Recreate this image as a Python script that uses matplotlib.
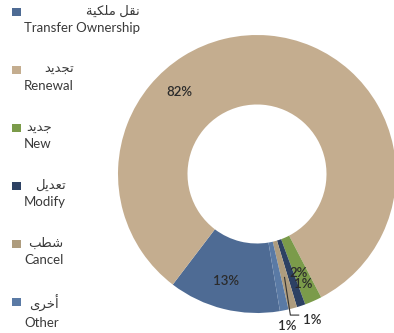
import numpy as np
import matplotlib
matplotlib.use('Agg')
import matplotlib.pyplot as plt
from matplotlib.patches import Rectangle

# licence types, in legend order (clockwise round the ring)
labels_ar = ['نقل ملكية', 'تجديد', 'جديد', 'تعديل', 'شطب', 'أخرى']
labels_en = ['Transfer Ownership', 'Renewal', 'New', 'Modify', 'Cancel', 'Other']
shares = [13, 82, 2, 1, 1, 1]
colors = ['#4E6B94', '#C4AD8F', '#7B9B4A', '#2D4163', '#AE9C7E', '#5A7AA5']

# where each percentage sits (data units of the pie axes)
label_pos = [(-0.22, -0.77), (-0.56, 0.59), (0.30, -0.71), (0.33, -0.79),
             (0.40, -1.05), (0.22, -1.09)]

# arabic letter forms: isolated, final, initial, medial
JOIN_FORMS = {
    'ب': '\ufe8f\ufe90\ufe91\ufe92',
    'ت': '\ufe95\ufe96\ufe97\ufe98',
    'ج': '\ufe9d\ufe9e\ufe9f\ufea0',
    'خ': '\ufea5\ufea6\ufea7\ufea8',
    'ش': '\ufeb5\ufeb6\ufeb7\ufeb8',
    'ط': '\ufec1\ufec2\ufec3\ufec4',
    'ع': '\ufec9\ufeca\ufecb\ufecc',
    'ق': '\ufed5\ufed6\ufed7\ufed8',
    'ك': '\ufed9\ufeda\ufedb\ufedc',
    'ل': '\ufedd\ufede\ufedf\ufee0',
    'م': '\ufee1\ufee2\ufee3\ufee4',
    'ن': '\ufee5\ufee6\ufee7\ufee8',
    'ي': '\ufef1\ufef2\ufef3\ufef4',
}
RIGHT_ONLY = {
    'د': '\ufea9\ufeaa',
    'ر': '\ufead\ufeae',
    'ة': '\ufe93\ufe94',
    'ى': '\ufeef\ufef0',
    'أ': '\ufe83\ufe84',
}


def shape(text):
    out = []
    for i, c in enumerate(text):
        prev = text[i - 1] if i > 0 else ''
        nxt = text[i + 1] if i + 1 < len(text) else ''
        to_prev = prev in JOIN_FORMS
        to_next = c in JOIN_FORMS and (nxt in JOIN_FORMS or nxt in RIGHT_ONLY)
        if c in JOIN_FORMS:
            f = JOIN_FORMS[c]
            if to_prev and to_next:
                out.append(f[3])
            elif to_prev:
                out.append(f[1])
            elif to_next:
                out.append(f[2])
            else:
                out.append(f[0])
        elif c in RIGHT_ONLY:
            f = RIGHT_ONLY[c]
            out.append(f[1] if to_prev else f[0])
        else:
            out.append(c)
    return ''.join(reversed(out))


plt.rcParams['font.family'] = ['Lato', 'DejaVu Sans']

fig = plt.figure(figsize=(3.94, 3.33), dpi=100)
W, H = 394, 333
cx, cy, r = 257, 174, 139
ax = fig.add_axes([(cx - r) / W, (H - cy - r) / H, 2 * r / W, 2 * r / H])

wedges, _ = ax.pie(shares, colors=colors, startangle=279.5, counterclock=False,
                   radius=1, wedgeprops=dict(width=0.5, linewidth=0))
for w in wedges:
    w.set_clip_on(False)
ax.set_xlim(-1, 1)
ax.set_ylim(-1, 1)
ax.set_aspect('equal')
ax.axis('off')

for v, (x, y) in zip(shares, label_pos):
    ax.text(x, y, f'{v}%', ha='center', va='center', fontsize=9.5,
            color='#2B2B2B', weight='semibold', clip_on=False)

# leader for the cancel slice
w = wedges[4]
mid = np.deg2rad((w.theta1 + w.theta2) / 2)
sx, sy = 0.77 * np.cos(mid), 0.77 * np.sin(mid)
lx, ly = label_pos[4]
ax.plot([sx, lx - 0.16, lx - 0.10], [sy, ly + 0.035, ly + 0.035],
        color='#333333', lw=0.8, clip_on=False)

# legend: square, arabic line above english, both right-aligned
for i, (ar, en, c) in enumerate(zip(labels_ar, labels_en, colors)):
    top = 12 + i * 58
    fig.add_artist(Rectangle((12 / W, 1 - (top + 4) / H), 9 / W, 8 / H,
                             transform=fig.transFigure, color=c, lw=0))
    fig.text(24 / W, 1 - (top - 7) / H, shape(ar) + '\n' + en, ha='left', va='top',
             multialignment='right', fontsize=9.5, color='#3A3A3A',
             linespacing=1.45, family=['Lato', 'DejaVu Sans'])

fig.savefig('out.png', dpi=100)
